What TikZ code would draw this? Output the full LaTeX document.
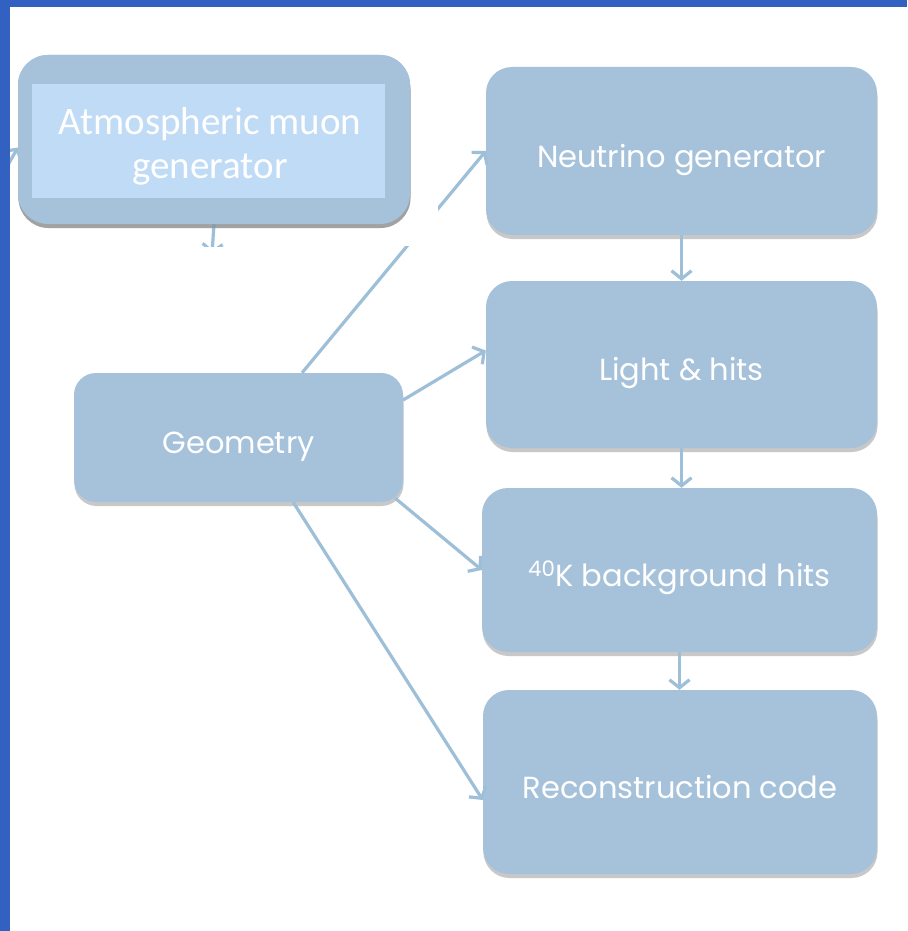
\documentclass[tikz,border=0pt]{standalone}
\usepackage{fontspec}
\setmainfont{Poppins}
\newfontfamily\calib{Carlito}
\usetikzlibrary{arrows.meta,shadows,calc}
\definecolor{boxblue}{HTML}{A5C2DA}
\definecolor{innerblue}{HTML}{C0DBF5}
\definecolor{lineblue}{HTML}{9DBFD8}
\definecolor{frameblue}{HTML}{3361C2}
\begin{document}
\begin{tikzpicture}[x=1pt,y=-1pt,
  box/.style={fill=boxblue, rounded corners=26pt,
    drop shadow={shadow xshift=0.5pt,shadow yshift=-4pt,opacity=0.3,fill=black!70},
    text=white, font=\fontsize{30.5}{36}\selectfont, inner sep=0pt, align=center,
    text height=32pt, text depth=0pt},
  conn/.style={draw=lineblue, line width=3.2pt,
    -{Straight Barb[length=8pt,width=20pt,line width=3.2pt]}}]
\useasboundingbox (0,0) rectangle (907,931);
\fill[white] (0,0) rectangle (907,931);
\fill[frameblue] (0,0) rectangle (10,931);
\fill[frameblue] (0,0) rectangle (907,7);

% right column and geometry
\node[box, minimum width=391pt, minimum height=168pt] (neu) at (681.5,151) {Neutrino generator};
\node[box, minimum width=391pt, minimum height=167pt] (light) at (681.5,364.5) {Light \& hits};
\node[box, minimum width=395pt, minimum height=164pt] (k40) at (679.5,570) {\textsuperscript{40}K background hits};
\node[box, minimum width=394pt, minimum height=184pt] (rec) at (680,782) {Reconstruction code};
\node[box, rounded corners=22pt, minimum width=329pt, minimum height=129pt] (geo) at (238.5,437.5) {Geometry};

% connectors
\draw[conn] ($(geo.north west)!0.693!(geo.north east)$) -- (neu.west);
\draw[conn] ($(geo.north east)!0.21!(geo.south east)$) -- ($(light.west)+(0,-14)$);
\draw[conn] ($(geo.south east)+(-8,-4)$) -- (k40.west);
\draw[conn] ($(geo.south west)!0.666!(geo.south east)$) -- ($(rec.west)+(0,18)$);
\draw[conn] (neu.south) -- (light.north);
\draw[conn] (light.south) -- (light.south |- k40.north);
\draw[conn] (k40.south) -- (k40.south |- rec.north);

% pasted atmospheric muon part
\fill[white] (10,7) rectangle (438,246);
\coordinate (stubend) at (212,254);
\coordinate (leftstart) at (-20,215);
\node[box, minimum width=392pt, minimum height=169pt, rounded corners=30pt] (atm) at (214,139.5) {};
\begin{scope}
  \clip (10,7) rectangle (438,246);
  \draw[conn] (atm.south) -- (stubend);
  \draw[conn] (leftstart) -- ($(atm.west)+(0,8)$);
\end{scope}
\node[box, minimum width=392pt, minimum height=169pt, rounded corners=30pt] at (214,139.5) {};
\node[fill=innerblue, minimum width=353pt, minimum height=114pt, inner sep=0pt] (atmin) at (208.5,141) {};
\node[text=white, align=center, inner sep=0pt, font=\calib\fontsize{39}{44}\selectfont] (atmtext) at (210,146)
  {Atmospheric muon\\generator};
\end{tikzpicture}
\end{document}
